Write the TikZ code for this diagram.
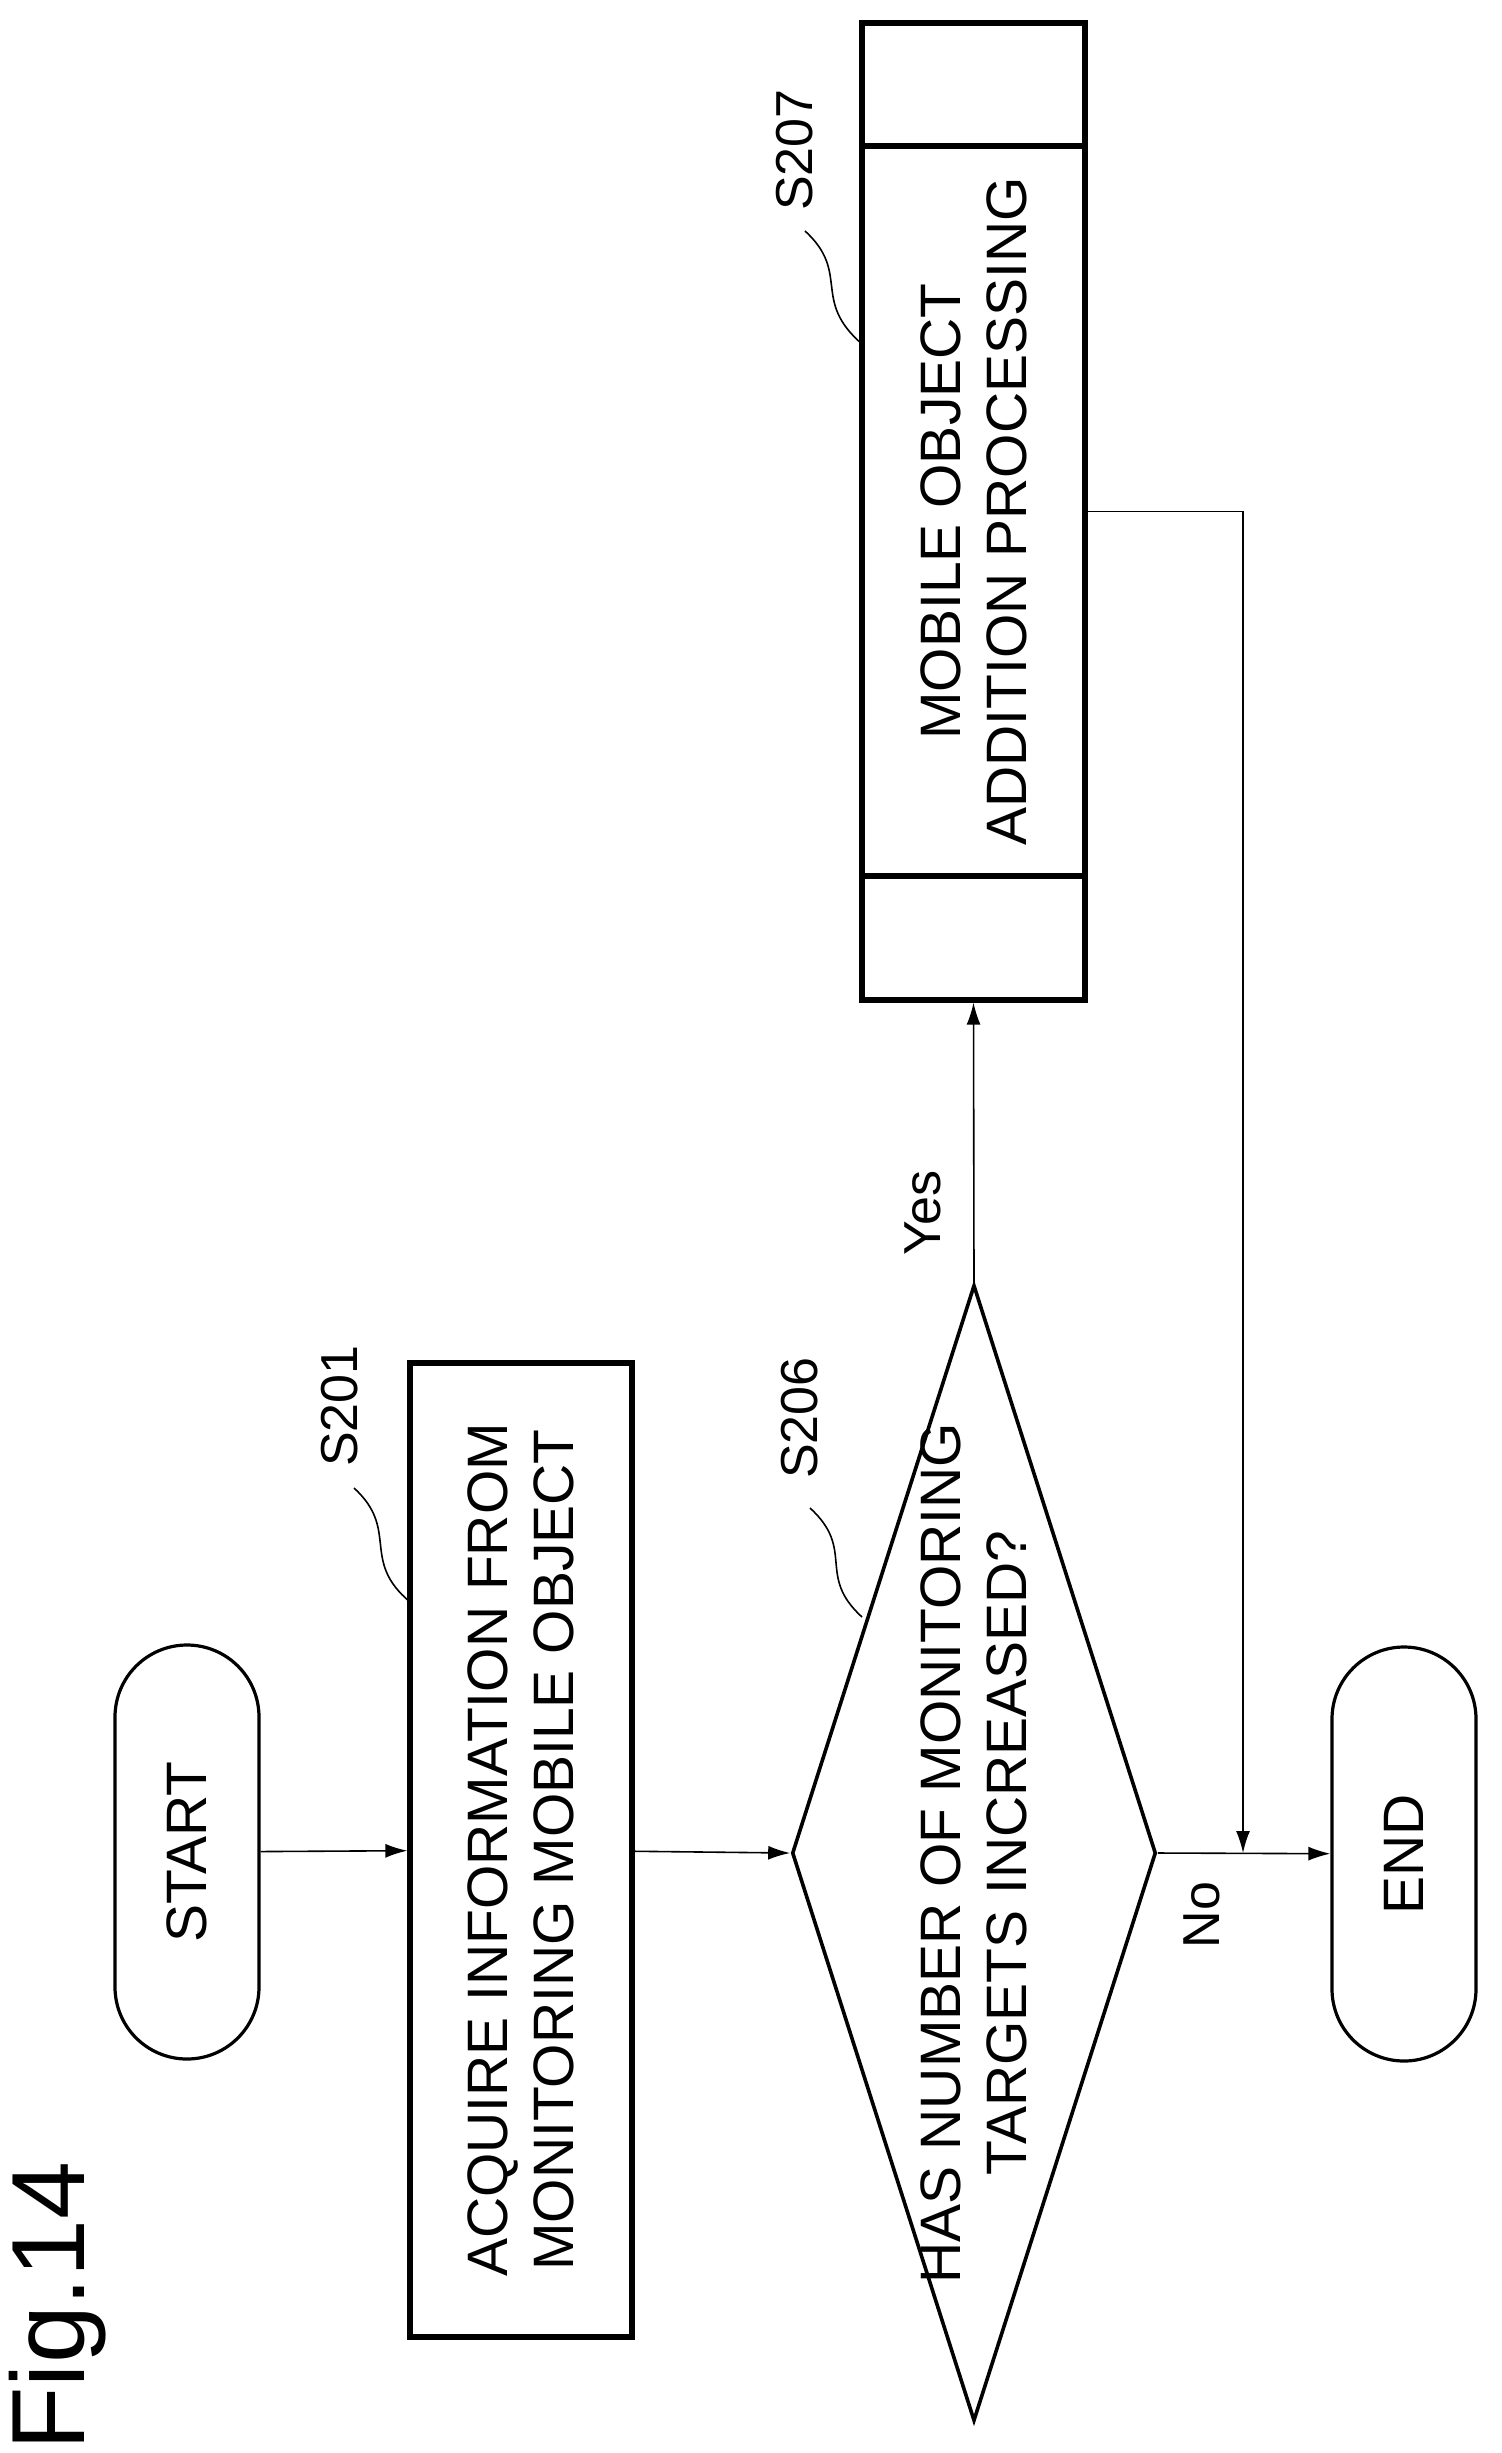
\documentclass[tikz,border=0pt]{standalone}
\usepackage{fontspec}
\setmainfont{Liberation Sans}
\usetikzlibrary{shapes.geometric,shapes.misc,arrows.meta}
\begin{document}
\begin{tikzpicture}[x=0.5pt,y=-0.5pt,
  txt/.style={font=\fontsize{28.5}{33}\selectfont, align=center, rotate=90},
  lbl/.style={font=\fontsize{26}{30}\selectfont, rotate=90},
  box/.style={draw, line width=2.6pt, rotate=90, inner sep=0pt},
  term/.style={draw, line width=1.6pt, rounded rectangle, rotate=90, inner sep=0pt, minimum width=207pt, minimum height=72pt},
  arr/.style={line width=0.8pt, -{Latex[length=11pt,width=7pt]}},
  sq/.style={line width=0.8pt}]
\useasboundingbox (0,0) rectangle (1502,2453);
\node[term] (start) at (187,1852) {};
\node[txt] at (start.center) {START};
\node[box, minimum width=487pt, minimum height=111pt] (s201) at (521,1850) {};
\node[txt] at (s201.center) {ACQUIRE INFORMATION FROM\\MONITORING MOBILE OBJECT};
\node[diamond, draw, line width=1.8pt, rotate=90, inner sep=0pt, minimum width=568pt, minimum height=182pt] (d) at (974,1853) {};
\node[txt] at (d.center) {HAS NUMBER OF MONITORING\\TARGETS INCREASED?};
\node[box, minimum width=488.5pt, minimum height=111.5pt] (s207) at (973.5,511.5) {};
\draw[line width=2.6pt] (862,146) -- (1085,146);
\draw[line width=2.6pt] (862,876) -- (1085,876);
\node[txt] at (s207.center) {MOBILE OBJECT\\ADDITION PROCESSING};
\node[term] (end) at (1404,1854) {};
\node[txt] at (end.center) {END};
\coordinate (j) at (1243,1853);
\draw[arr] (start) -- (s201);
\draw[arr] (s201) -- (d.north);
\draw[arr] (d.south) -- (end);
\draw[arr] (d.east) -- (s207.west);
\draw[arr] (s207.south) -| (j);
\node[lbl] at (923,1213) {Yes};
\node[lbl] at (1202,1915) {No};
\node[lbl] (l201) at (340,1406) {S201};
\node[lbl] (l206) at (800,1418) {S206};
\node[lbl] (l207) at (795,150) {S207};
\draw[sq] (354,1488) .. controls (400,1530) and (360,1560) .. (410,1602);
\draw[sq] (810,1508) .. controls (856,1550) and (816,1575) .. (862,1617);
\draw[sq] (805,231) .. controls (851,273) and (811,300) .. (862,344);
\node[font=\fontsize{52}{60}\selectfont, rotate=90] (fig) at (58,2306) {Fig.14};
\end{tikzpicture}
\end{document}
